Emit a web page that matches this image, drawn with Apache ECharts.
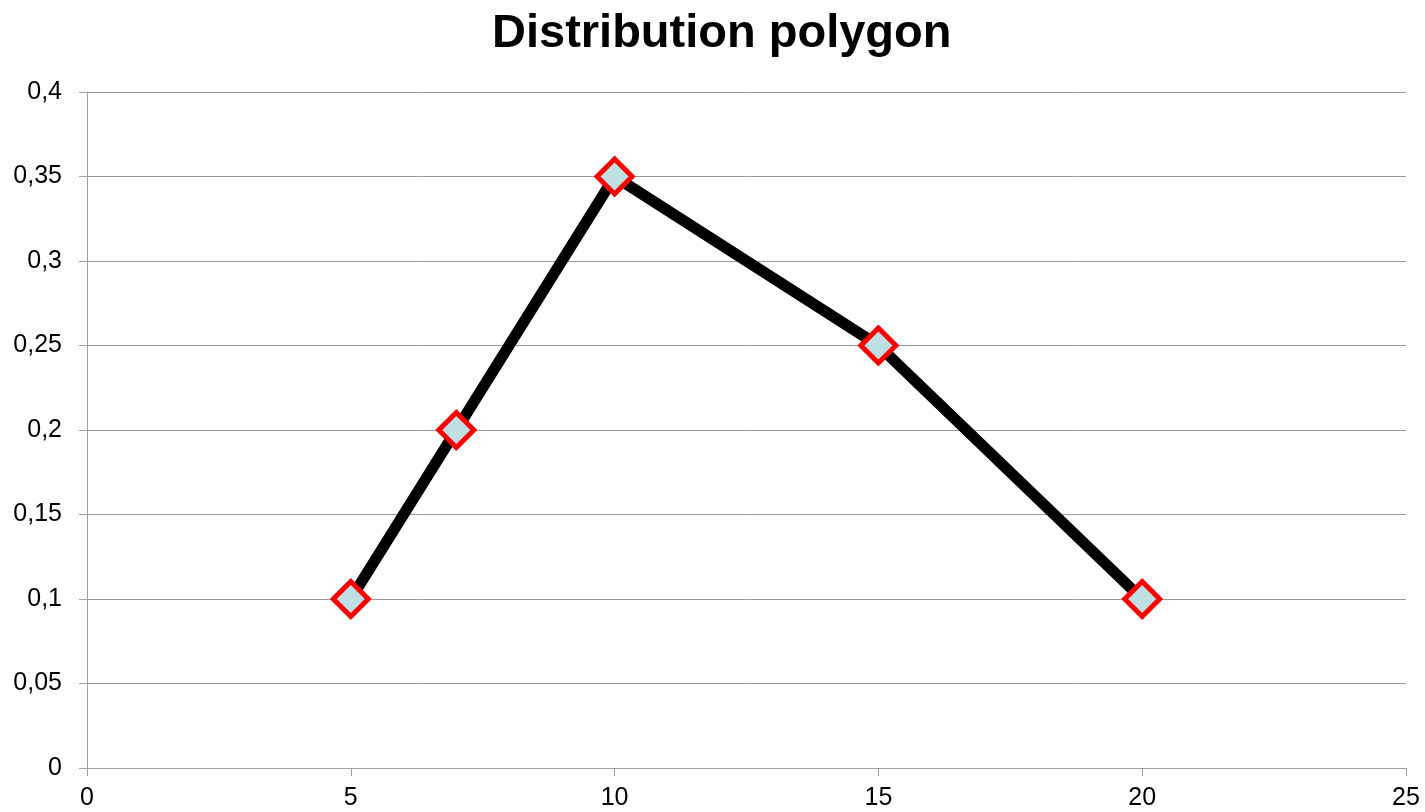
<!DOCTYPE html>
<html>
<head>
<meta charset="utf-8">
<script src="https://cdn.jsdelivr.net/npm/echarts@6/dist/echarts.min.js"></script>
<style>html,body{margin:0;padding:0;background:#fff}#c{width:1425px;height:812px}</style>
</head>
<body>
<div id="c"></div>
<script>
const titleText = "Distribution polygon";
const xValues = [5, 7, 10, 15, 20];
const yValues = [0.1, 0.2, 0.35, 0.25, 0.1];
const fmt = v => String(+v.toFixed(2)).replace('.', ',');

const chart = echarts.init(document.getElementById('c'));
chart.setOption({
  animation: false,
  title: {
    text: titleText, left: 487, top: 6,
    textStyle: {fontFamily: 'Liberation Sans, Arial', fontSize: 47, fontWeight: 'bold', color: '#000'}
  },
  grid: {left: 87, right: 19, top: 92, bottom: 44, containLabel: false},
  xAxis: {
    type: 'value', min: 0, max: 25, interval: 5,
    axisLine: {show: true, onZero: false, lineStyle: {color: '#a0a0a0', width: 1}},
    axisTick: {show: true, length: 8, lineStyle: {color: '#a0a0a0'}},
    splitLine: {show: false},
    axisLabel: {fontFamily: 'Liberation Sans, Arial', fontSize: 25, color: '#000', margin: 18, formatter: fmt}
  },
  yAxis: {
    type: 'value', min: 0, max: 0.4, interval: 0.05,
    axisLine: {show: true, lineStyle: {color: '#a0a0a0', width: 1}},
    axisTick: {show: true, length: 8, lineStyle: {color: '#a0a0a0'}},
    splitLine: {show: true, lineStyle: {color: '#999', width: 1}},
    axisLabel: {fontFamily: 'Liberation Sans, Arial', fontSize: 25, color: '#000', margin: 25, formatter: fmt}
  },
  series: [{
    type: 'line',
    data: xValues.map((x, i) => [x, yValues[i]]),
    lineStyle: {color: '#000', width: 11},
    symbol: 'diamond', symbolSize: 35,
    itemStyle: {color: '#c0dfe3', borderColor: '#ff0000', borderWidth: 5},
    z: 3
  }]
});
</script>
</body>
</html>
